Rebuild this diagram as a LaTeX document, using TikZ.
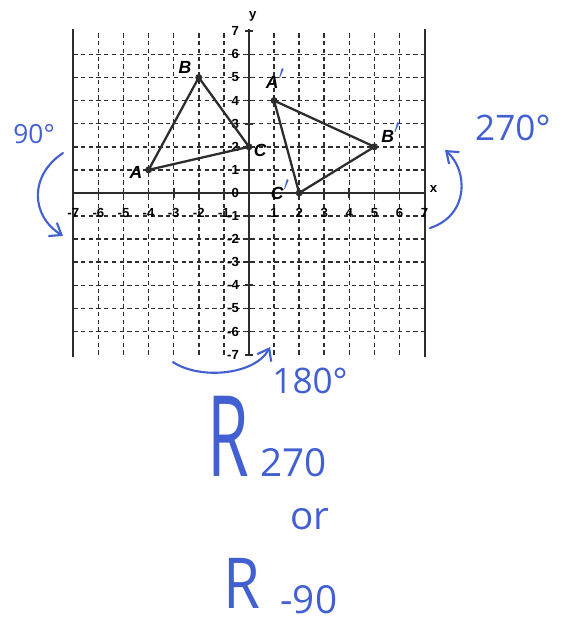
\documentclass[tikz,border=0pt]{standalone}
\usepackage{fontspec}
\setsansfont{Liberation Sans}
\newfontfamily\handfont{Open Sans}
\usetikzlibrary{arrows.meta,positioning}
\definecolor{inkblue}{RGB}{66,96,210}
\definecolor{gridgray}{RGB}{45,45,45}

\begin{document}
\begin{tikzpicture}[x=0.502cm, y=0.462cm,
    gridline/.style={gridgray, line width=0.9pt, dash pattern=on 2.4pt off 2pt},
    axisline/.style={gridgray, line width=1pt},
    ticklab/.style={font=\fontsize{7.5}{8}\selectfont\sffamily\bfseries, inner sep=0.5pt},
    vertex/.style={circle, fill=gridgray, inner sep=0pt, minimum size=4pt},
    vlabel/.style={font=\fontsize{10}{12}\selectfont\sffamily\bfseries\itshape, inner sep=1pt},
    side/.style={gridgray, line width=1.3pt},
    ink/.style={inkblue, line width=1.2pt, line cap=round, -{Straight Barb[length=6pt,width=9pt]}},
    hand/.style={text=inkblue, inner sep=0pt, anchor=base west}
  ]
    \useasboundingbox (-9.92,8.355) rectangle (12.75,-18.66);

    % Grid
    \foreach \i in {-6,...,-1,1,2,...,6} {
      \draw[gridline] (-7,\i) -- (7,\i);
      \draw[gridline] (\i,-7) -- (\i,7);
    }
    \draw[axisline] (-7,-7.1) -- (-7,7.1);
    \draw[axisline] (7,-7.1) -- (7,7.1);

    % Axes
    \draw[axisline] (-7,0) -- (7,0);
    \draw[axisline] (0,-7) -- (0,7.1);
    \foreach \i in {-7,...,7} {
      \draw[axisline] (\i,-0.2) -- (\i,0.2);
      \draw[axisline] (-0.15,\i) -- (0.15,\i);
      \node[ticklab, anchor=east] (yl\i) at (-0.35,\i) {\i};
    }
    \foreach \i in {-7,...,-1,1,2,...,7}
      \node[ticklab] (xl\i) at (\i,-0.85) {\i};
    \node[ticklab] (xlab) at (7.35,0.15) {x};
    \node[ticklab] (ylab) at (0.15,7.65) {y};

    % Triangle ABC
    \node[vertex] (A) at (-4,1) {};
    \node[vertex] (B) at (-2,5) {};
    \node[vertex] (C) at (0,2) {};
    \draw[side] (A.center) -- (B.center) -- (C.center) -- cycle;
    \node[vlabel] (Alab) at (-4.5,0.87) {A};
    \node[vlabel] (Blab) at (-2.55,5.45) {B};
    \node[vlabel] (Clab) at (0.45,1.86) {C};

    % Triangle A'B'C'
    \node[vertex] (A1) at (1,4) {};
    \node[vertex] (B1) at (5,2) {};
    \node[vertex] (C1) at (2,0) {};
    \draw[side] (A1.center) -- (B1.center) -- (C1.center) -- cycle;
    \node[vlabel] (A1lab) at (1.05,4.95) {A\textcolor{inkblue}{\fontsize{15}{15}\selectfont$'$}};
    \node[vlabel] (B1lab) at (5.65,2.6) {B\textcolor{inkblue}{\fontsize{15}{15}\selectfont$'$}};
    \node[vlabel] (C1lab) at (1.25,0.15) {C\textcolor{inkblue}{\fontsize{15}{15}\selectfont$'$}};

    % Handwritten turns
    \node[hand, font=\handfont\fontsize{15}{18}\selectfont] (t90) at (-9.4,2.16) {90°};
    \coordinate (l1) at (-7.41,1.73);
    \coordinate (l2) at (-7.41,-1.86);
    \draw[ink] (l1) .. controls (-8.73,0.78) and (-8.73,-0.95) .. (l2);

    \node[hand, font=\handfont\fontsize{20}{22}\selectfont] (t270) at (9.0,2.29) {270°};
    \coordinate (r1) at (7.21,-1.52);
    \coordinate (r2) at (7.81,1.86);
    \draw[ink] (r1) .. controls (8.80,-0.95) and (8.72,1.0) .. (r2);

    \node[hand, font=\handfont\fontsize{20}{22}\selectfont] (t180) at (0.92,-8.66) {180°};
    \coordinate (b1) at (-3.03,-7.32);
    \coordinate (b2) at (0.84,-6.67);
    \draw[ink] (b1) .. controls (-1.95,-8.10) and (0.24,-7.88) .. (b2);

    % Answer
    \node[hand, font=\handfont\fontsize{64}{66}\selectfont] (R1) at (-1.67,-12.29) {\scalebox{0.6}[1]{R}};
    \node[hand, font=\handfont\fontsize{22}{24}\selectfont] (s1) at (0.44,-12.29) {270};
    \node[hand, font=\handfont\fontsize{22}{24}\selectfont] (or) at (1.63,-14.59) {or};
    \node[hand, font=\handfont\fontsize{40}{42}\selectfont] (R2) at (-1.04,-18.0) {\scalebox{0.85}[1]{R}};
    \node[hand, font=\handfont\fontsize{22}{24}\selectfont] (s2) at (1.24,-18.2) {-90};
  \end{tikzpicture}
\end{document}
